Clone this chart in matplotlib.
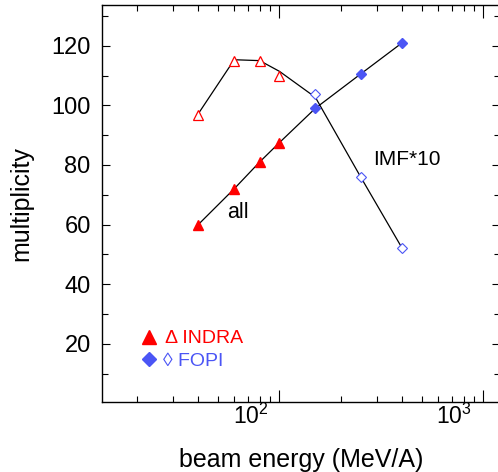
import matplotlib
matplotlib.use('Agg')
import matplotlib.pyplot as plt
from matplotlib.ticker import FixedLocator, FixedFormatter, NullFormatter
from matplotlib.transforms import ScaledTranslation

plt.rcParams['font.family'] = ['Liberation Sans', 'DejaVu Sans']
plt.rcParams['mathtext.fontset'] = 'custom'
plt.rcParams['mathtext.rm'] = 'Liberation Sans'
plt.rcParams['mathtext.it'] = 'Liberation Sans:italic'
plt.rcParams['mathtext.bf'] = 'Liberation Sans:bold'

# ---- data ----
indra_energy = [40, 60, 80, 100]
fopi_energy = [150, 250, 400]
indra_all = [60.0, 72.0, 81.0, 87.5]
fopi_all = [99.0, 110.5, 121.0]
indra_imf = [96.6, 115.0, 114.8, 109.7]
fopi_imf = [103.9, 75.9, 52.0]
imf_line_energy = [40, 60, 80, 100, 150, 250, 400]
imf_line = [97.2, 115.3, 115.0, 111.4, 102.7, 76.0, 52.0]

x_major = [10, 100, 1000]
x_major_labels = ['$\\mathregular{10^{1}}$', '$\\mathregular{10^{2}}$', '$\\mathregular{10^{3}}$']
x_minor = [m * d for d in (10, 100, 1000) for m in range(2, 10)]
y_major = [20, 40, 60, 80, 100, 120]
y_minor = [10, 30, 50, 70, 90, 110, 130]

RED = '#ff0000'
BLUE = '#4b55f5'

fig = plt.figure(figsize=(4.98, 4.72), dpi=100)
ax = fig.add_axes([101.5 / 498, 1 - 402.3 / 472, (500 - 101.5) / 498, (402.3 - 5.2) / 472])

ax.set_xscale('log')
ax.set_xlim(13.4, 1207)
ax.set_ylim(0.34, 133.6)

# lines
ax.plot(indra_energy + fopi_energy, indra_all + fopi_all, color='black', lw=0.9, zorder=2)
ax.plot(imf_line_energy, imf_line, color='black', lw=0.9, zorder=2)

# markers
ax.plot(indra_energy, indra_all, ls='none', marker='^', ms=6.5, color=RED, mec=RED, zorder=3)
ax.plot(fopi_energy, fopi_all, ls='none', marker='D', ms=5.0, color=BLUE, mec=BLUE, zorder=3)
ax.plot(indra_energy, indra_imf, ls='none', marker='^', ms=6.8, mfc='white', mec=RED, mew=0.9, zorder=3)
ax.plot(fopi_energy, fopi_imf, ls='none', marker='D', ms=5.0, mfc='white', mec=BLUE, mew=0.8, zorder=3)

# annotations
ax.text(287, 80.1, 'IMF*10', fontsize=15, va='baseline', ha='left', color='black')
ax.text(55.2, 62.2, 'all', fontsize=15.5, va='baseline', ha='left', color='black')

# legend (manual)
ax.plot([0.1195], [0.1644], transform=ax.transAxes, marker='^', ms=10, color=RED, ls='none', clip_on=False)
ax.text(0.1597, 0.1486, '\u0394 INDRA', transform=ax.transAxes, fontsize=14, color=RED,
        va='baseline', ha='left')
ax.plot([0.1195], [0.109], transform=ax.transAxes, marker='D', ms=7, color=BLUE, ls='none', clip_on=False)
ax.text(0.1547, 0.0922, '\u25CA FOPI', transform=ax.transAxes, fontsize=14, color=BLUE,
        va='baseline', ha='left')

# axes styling
ax.xaxis.set_major_locator(FixedLocator(x_major))
ax.xaxis.set_major_formatter(FixedFormatter(x_major_labels))
ax.xaxis.set_minor_locator(FixedLocator(x_minor))
ax.xaxis.set_minor_formatter(NullFormatter())
ax.yaxis.set_major_locator(FixedLocator(y_major))
ax.yaxis.set_minor_locator(FixedLocator(y_minor))

for s in ax.spines.values():
    s.set_linewidth(1.0)

ax.tick_params(axis='both', which='both', direction='in', top=True, right=True, width=0.8)
ax.tick_params(axis='x', which='major', length=9, labelsize=16.5, pad=1)
ax.tick_params(axis='x', which='minor', length=4.3)
ax.tick_params(axis='y', which='major', length=6, labelsize=17, pad=7.8)
ax.tick_params(axis='y', which='minor', length=4.3)

ax.set_xlabel('beam energy (MeV/A)', fontsize=18)
ax.set_ylabel('multiplicity', fontsize=18)
ax.xaxis.set_label_coords(0.5, -0.115)
ax.yaxis.set_label_coords(-0.17, 0.5)

# shift x tick labels left as in reference
offset = ScaledTranslation(-29 / 100, 0, fig.dpi_scale_trans)
for t in ax.xaxis.get_major_ticks():
    t.label1.set_transform(t.label1.get_transform() + offset)

fig.savefig('out.png', dpi=100)
